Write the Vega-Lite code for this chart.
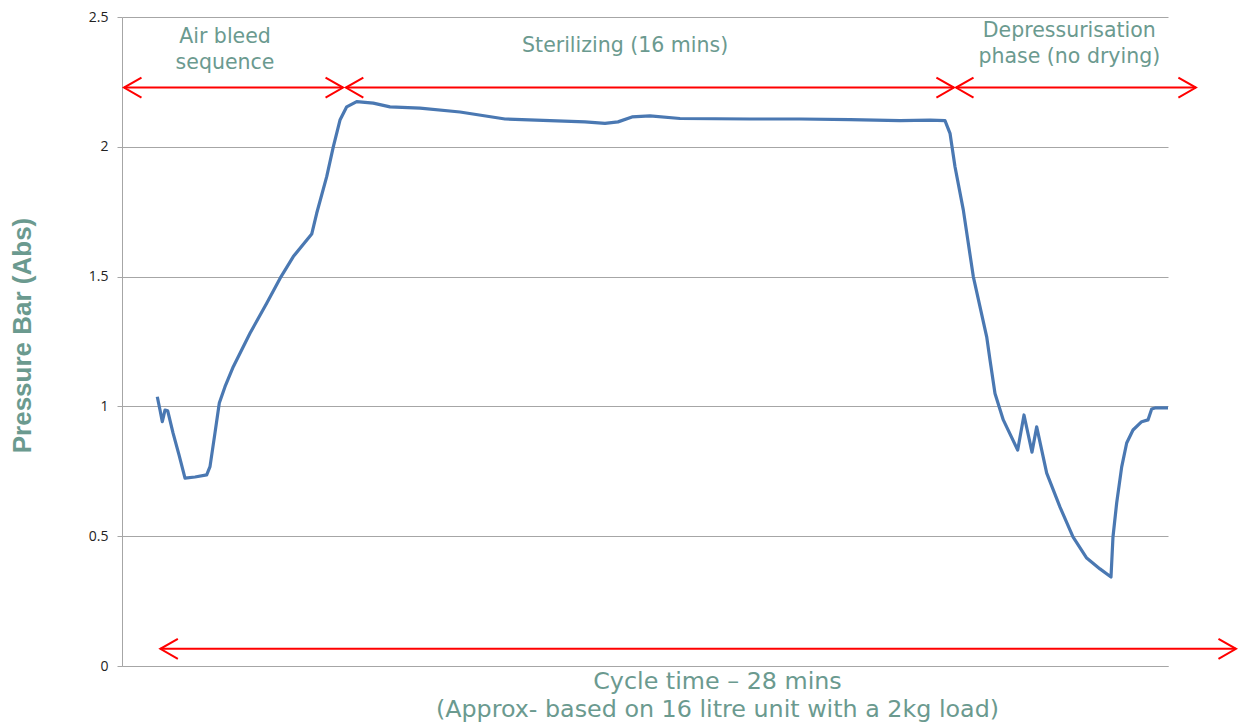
{
  "$schema": "https://vega.github.io/schema/vega-lite/v6.json",
  "width": 1046,
  "height": 649,
  "autosize": {"type": "none"},
  "padding": {"left": 122, "top": 17, "right": 71, "bottom": 61},
  "background": "white",
  "config": {
    "view": {"stroke": null},
    "font": "DejaVu Sans"
  },
  "datasets": {
    "pressure": [
      {"t": 1.012, "p": 1.037}, {"t": 1.090, "p": 0.986}, {"t": 1.156, "p": 0.941}, {"t": 1.233, "p": 0.986},
      {"t": 1.311, "p": 0.983}, {"t": 1.463, "p": 0.898}, {"t": 1.635, "p": 0.813}, {"t": 1.807, "p": 0.724},
      {"t": 2.094, "p": 0.728}, {"t": 2.429, "p": 0.736}, {"t": 2.524, "p": 0.768}, {"t": 2.667, "p": 0.898},
      {"t": 2.791, "p": 1.013}, {"t": 2.954, "p": 1.076}, {"t": 3.192, "p": 1.153}, {"t": 3.671, "p": 1.282},
      {"t": 4.150, "p": 1.397}, {"t": 4.532, "p": 1.493}, {"t": 4.913, "p": 1.577}, {"t": 5.441, "p": 1.664},
      {"t": 5.584, "p": 1.744}, {"t": 5.871, "p": 1.885}, {"t": 6.060, "p": 2.000}, {"t": 6.252, "p": 2.103},
      {"t": 6.445, "p": 2.154}, {"t": 6.731, "p": 2.174}, {"t": 7.207, "p": 2.168}, {"t": 7.686, "p": 2.154},
      {"t": 8.547, "p": 2.149}, {"t": 9.694, "p": 2.134}, {"t": 10.985, "p": 2.107}, {"t": 12.275, "p": 2.101},
      {"t": 13.279, "p": 2.096}, {"t": 13.853, "p": 2.090}, {"t": 14.226, "p": 2.096}, {"t": 14.627, "p": 2.115},
      {"t": 15.143, "p": 2.119}, {"t": 16.004, "p": 2.109}, {"t": 18.011, "p": 2.107}, {"t": 19.445, "p": 2.107},
      {"t": 20.880, "p": 2.105}, {"t": 22.314, "p": 2.101}, {"t": 23.174, "p": 2.103}, {"t": 23.604, "p": 2.101},
      {"t": 23.748, "p": 2.052}, {"t": 23.891, "p": 1.923}, {"t": 24.129, "p": 1.757}, {"t": 24.416, "p": 1.500},
      {"t": 24.800, "p": 1.268}, {"t": 24.895, "p": 1.179}, {"t": 25.038, "p": 1.050}, {"t": 25.276, "p": 0.948},
      {"t": 25.689, "p": 0.832}, {"t": 25.870, "p": 0.967}, {"t": 26.099, "p": 0.824}, {"t": 26.234, "p": 0.921},
      {"t": 26.521, "p": 0.743}, {"t": 26.903, "p": 0.612}, {"t": 27.275, "p": 0.497}, {"t": 27.668, "p": 0.416},
      {"t": 28.049, "p": 0.374}, {"t": 28.365, "p": 0.343}, {"t": 28.422, "p": 0.497}, {"t": 28.528, "p": 0.628},
      {"t": 28.672, "p": 0.767}, {"t": 28.815, "p": 0.859}, {"t": 28.996, "p": 0.909}, {"t": 29.245, "p": 0.941},
      {"t": 29.426, "p": 0.948}, {"t": 29.532, "p": 0.990}, {"t": 29.627, "p": 0.994}, {"t": 30.000, "p": 0.994}
    ],
    "arrows": [
      {"a": 0.057, "b": 6.34, "y": 2.228},
      {"a": 6.42, "b": 23.86, "y": 2.228},
      {"a": 23.92, "b": 30.80, "y": 2.228},
      {"a": 1.10, "b": 31.95, "y": 0.066}
    ],
    "labels": [
      {"t": 2.954, "p": 2.40, "label": "Air bleed\nsequence"},
      {"t": 14.43, "p": 2.367, "label": "Sterilizing (16 mins)"},
      {"t": 27.17, "p": 2.424, "label": "Depressurisation\nphase (no drying)"}
    ]
  },
  "layer": [
    {
      "data": {"name": "pressure"},
      "mark": {"type": "line", "color": "#4a78b2", "strokeWidth": 3.2, "strokeJoin": "round"},
      "encoding": {
        "x": {
          "field": "t", "type": "quantitative",
          "scale": {"domain": [0, 30], "nice": false, "zero": false},
          "axis": {
            "labels": false, "ticks": false, "grid": false,
            "domainColor": "#a6a6a6", "domainWidth": 1,
            "title": ["Cycle time \u2013 28 mins", "(Approx- based on 16 litre unit with a 2kg load)"],
            "titleFont": "DejaVu Sans", "titleFontSize": 23.8, "titleFontWeight": "normal",
            "titleColor": "#6b9a8f", "titleX": 595, "titleY": 3, "titleBaseline": "top",
            "titleLineHeight": 28
          }
        },
        "y": {
          "field": "p", "type": "quantitative",
          "scale": {"domain": [0, 2.5], "nice": false},
          "axis": {
            "values": [0, 0.5, 1, 1.5, 2, 2.5],
            "format": "~g",
            "grid": true, "gridColor": "#a6a6a6", "gridWidth": 1,
            "domainColor": "#a6a6a6", "tickColor": "#a6a6a6", "tickSize": 5,
            "labelFont": "Open Sans", "labelFontSize": 14, "labelColor": "#222222", "labelPadding": 9,
            "title": "Pressure Bar (Abs)",
            "titleFont": "Liberation Sans", "titleFontSize": 26, "titleFontWeight": "bold", "titleColor": "#6b9a8f",
            "titleAngle": -90, "titleX": -100, "titleY": 318, "titleAlign": "center", "titleBaseline": "middle"
          }
        }
      }
    },
    {
      "data": {"name": "arrows"},
      "mark": {"type": "rule", "color": "#ff0000", "strokeWidth": 2},
      "encoding": {
        "x": {"field": "a", "type": "quantitative"},
        "x2": {"field": "b"},
        "y": {"field": "y", "type": "quantitative"}
      }
    },
    {
      "data": {"name": "arrows"},
      "mark": {"type": "point", "shape": "M1,-0.57L0,0L1,0.57", "filled": false, "stroke": "#ff0000", "strokeWidth": 2, "size": 1225, "opacity": 1},
      "encoding": {
        "x": {"field": "a", "type": "quantitative"},
        "y": {"field": "y", "type": "quantitative"}
      }
    },
    {
      "data": {"name": "arrows"},
      "mark": {"type": "point", "shape": "M-1,-0.57L0,0L-1,0.57", "filled": false, "stroke": "#ff0000", "strokeWidth": 2, "size": 1225, "opacity": 1},
      "encoding": {
        "x": {"field": "b", "type": "quantitative"},
        "y": {"field": "y", "type": "quantitative"}
      }
    },
    {
      "data": {"name": "labels"},
      "mark": {"type": "text", "font": "DejaVu Sans", "fontSize": 20.5, "color": "#6b9a8f", "align": "center", "baseline": "alphabetic", "lineBreak": "\n", "lineHeight": 26},
      "encoding": {
        "x": {"field": "t", "type": "quantitative"},
        "y": {"field": "p", "type": "quantitative"},
        "text": {"field": "label"}
      }
    }
  ]
}
